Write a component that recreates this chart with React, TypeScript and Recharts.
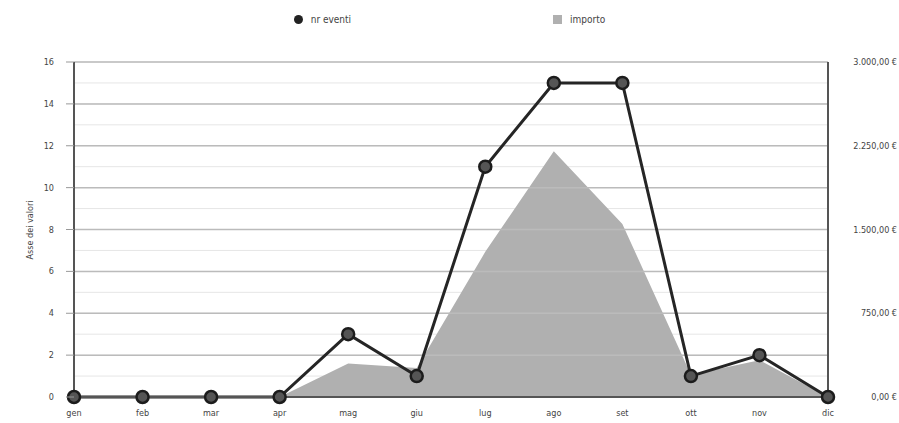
import { ComposedChart, Area, Line, XAxis, YAxis, CartesianGrid, ReferenceLine, Label } from "recharts";

const months: string[] = ["gen", "feb", "mar", "apr", "mag", "giu", "lug", "ago", "set", "ott", "nov", "dic"];
const eventi: number[] = [0, 0, 0, 0, 3, 1, 11, 15, 15, 1, 2, 0];
const importo: number[] = [0, 0, 0, 0, 300, 260, 1300, 2200, 1550, 200, 330, 0];
const leftTicks: number[] = [0, 1, 2, 3, 4, 5, 6, 7, 8, 9, 10, 11, 12, 13, 14, 15, 16];
const majorTicks: number[] = [2, 4, 6, 8, 10, 12, 14, 16];
const rightTicks: number[] = [0, 750, 1500, 2250, 3000];

const data = months.map((m, i) => ({ mese: m, eventi: eventi[i], importo: importo[i] }));

const FONT = "'Liberation Sans Narrow', 'DejaVu Sans Condensed', 'Liberation Sans', sans-serif";
const TEXT = "#444";

const formatEuro = (v: number) => {
  // it-IT skips the thousand separator on 4 digit numbers, add it by hand
  const [int, dec] = v.toFixed(2).split(".");
  const withDots = int.replace(/\B(?=(\d{3})+(?!\d))/g, ".");
  return `${withDots},${dec} €`;
};

function LeftTick(props: any) {
  const { x, y, payload } = props;
  if (payload.value % 2 !== 0) return null;
  return (
    <g>
      <line x1={x - 8} x2={x} y1={y} y2={y} stroke="#999" strokeWidth={1} />
      <text x={x - 20} y={y} textAnchor="end" dominantBaseline="central" fontSize={9} fill={TEXT} fontFamily={FONT}>
        {payload.value}
      </text>
    </g>
  );
}

function RightTick(props: any) {
  const { x, y, payload } = props;
  return (
    <text x={x + 69} y={y} textAnchor="end" dominantBaseline="central" fontSize={9} fill={TEXT} fontFamily={FONT}>
      {formatEuro(payload.value)}
    </text>
  );
}

function MonthTick(props: any) {
  const { x, y, payload } = props;
  return (
    <text x={x} y={y + 16} textAnchor="middle" dominantBaseline="central" fontSize={9} fill={TEXT} fontFamily={FONT}>
      {payload.value}
    </text>
  );
}

function Dot(props: any) {
  const { cx, cy, index } = props;
  return <circle key={`dot-${index}`} cx={cx} cy={cy} r={6} fill="#555" stroke="#1c1c1c" strokeWidth={2.5} />;
}

function LegendBar() {
  return (
    <div
      style={{
        position: "absolute",
        top: 14,
        left: 0,
        width: 899,
        display: "flex",
        justifyContent: "center",
        gap: 202,
        fontFamily: FONT,
        fontSize: 10,
        color: TEXT,
      }}
    >
      <div style={{ display: "flex", alignItems: "center", gap: 8 }}>
        <span style={{ width: 9, height: 9, borderRadius: "50%", background: "#222", display: "inline-block" }} />
        <span>nr eventi</span>
      </div>
      <div style={{ display: "flex", alignItems: "center", gap: 8 }}>
        <span style={{ width: 9, height: 9, background: "#b0b0b0", display: "inline-block" }} />
        <span>importo</span>
      </div>
    </div>
  );
}

export default function App() {
  return (
    <div style={{ position: "absolute", left: 0, top: 0, width: 899, height: 423, background: "#fff" }}>
      <LegendBar />
      <ComposedChart width={899} height={423} data={data} margin={{ top: 62, right: 0, bottom: 0, left: 0 }}>
        <CartesianGrid vertical={false} stroke="#e6e6e6" strokeWidth={1} yAxisId="left" />
        {majorTicks.map((t) => (
          <ReferenceLine key={`major-${t}`} yAxisId="left" y={t} stroke="#bbb" strokeWidth={1.5} />
        ))}
        <XAxis
          dataKey="mese"
          scale="point"
          padding={{ left: 0, right: 0 }}
          height={26}
          tickSize={0}
          tickMargin={0}
          tickLine={false}
          axisLine={{ stroke: "#555", strokeWidth: 2 }}
          tick={<MonthTick />}
          interval={0}
        />
        <YAxis
          yAxisId="left"
          orientation="left"
          width={74}
          domain={[0, 16]}
          ticks={leftTicks}
          interval={0}
          tickSize={0}
          tickMargin={0}
          tickLine={false}
          axisLine={{ stroke: "#555", strokeWidth: 2 }}
          tick={<LeftTick />}
        >
          <Label
            content={() => (
              <text
                x={30}
                y={230}
                transform="rotate(-90 30 230)"
                textAnchor="middle"
                dominantBaseline="central"
                fontSize={9}
                fill={TEXT}
                fontFamily={FONT}
              >
                Asse dei valori
              </text>
            )}
          />
        </YAxis>
        <YAxis
          yAxisId="right"
          orientation="right"
          width={71}
          domain={[0, 3000]}
          ticks={rightTicks}
          interval={0}
          tickSize={0}
          tickMargin={0}
          tickLine={false}
          axisLine={{ stroke: "#555", strokeWidth: 2 }}
          tick={<RightTick />}
        />
        <Area
          yAxisId="right"
          type="linear"
          dataKey="importo"
          fill="#b0b0b0"
          fillOpacity={1}
          stroke="none"
          isAnimationActive={false}
        />
        <Line
          yAxisId="left"
          type="linear"
          dataKey="eventi"
          stroke="#252525"
          strokeWidth={3}
          dot={<Dot />}
          activeDot={false}
          isAnimationActive={false}
        />
      </ComposedChart>
    </div>
  );
}
